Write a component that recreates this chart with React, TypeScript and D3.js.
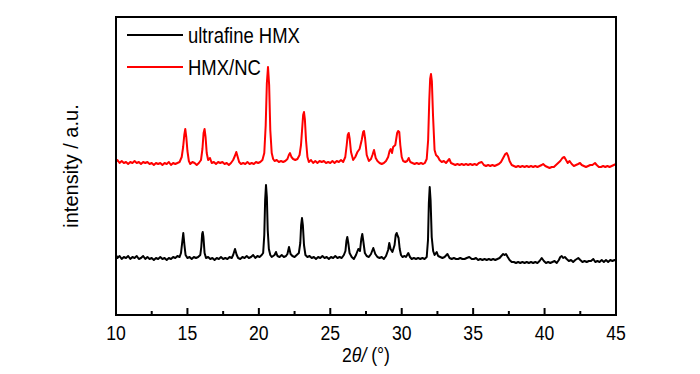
import * as d3 from "d3"

// 2theta / intensity (red trace already shifted up in the plot)
const ultrafineHMX: [number, number][] = [
  [10.0, 60], [10.1, 57], [10.25, 59], [10.4, 56], [10.55, 58], [10.7, 57], [10.85, 59], [11.0, 56],
  [11.15, 58], [11.3, 57], [11.45, 59], [11.6, 56], [11.75, 57], [11.9, 59], [12.05, 56], [12.2, 58],
  [12.35, 56], [12.5, 57], [12.65, 55], [12.8, 57], [12.95, 56], [13.1, 58], [13.25, 56], [13.4, 57],
  [13.55, 55], [13.7, 57], [13.85, 56], [14.0, 58], [14.15, 57], [14.3, 59], [14.45, 58],
  [14.55, 62], [14.63, 72], [14.71, 82], [14.79, 70], [14.87, 60], [15.0, 57], [15.15, 58], [15.3, 56],
  [15.45, 58], [15.6, 57], [15.75, 58], [15.9, 60],
  [15.97, 68], [16.03, 81], [16.07, 83], [16.12, 78], [16.2, 62], [16.3, 57], [16.45, 58], [16.6, 56],
  [16.75, 57], [16.9, 55], [17.05, 57], [17.2, 56], [17.35, 58], [17.5, 56], [17.65, 57], [17.8, 56],
  [17.95, 58], [18.1, 57],
  [18.2, 60], [18.33, 66], [18.45, 60], [18.55, 57], [18.7, 56], [18.85, 58], [19.0, 57], [19.15, 59],
  [19.3, 57], [19.45, 58], [19.6, 60], [19.75, 57], [19.9, 59], [20.05, 58], [20.2, 60], [20.3, 62],
  [20.38, 80], [20.44, 115], [20.5, 130], [20.56, 118], [20.62, 85], [20.7, 66], [20.8, 60], [20.9, 58],
  [21.0, 59], [21.1, 60], [21.2, 63], [21.3, 59], [21.45, 58], [21.6, 60], [21.75, 58], [21.9, 59],
  [22.0, 61], [22.11, 68], [22.22, 61], [22.35, 59], [22.5, 58], [22.65, 60], [22.8, 62],
  [22.9, 72], [22.96, 90], [23.02, 97], [23.08, 90], [23.16, 70], [23.26, 60], [23.4, 58], [23.55, 59],
  [23.7, 57], [23.85, 58], [24.0, 56], [24.15, 58], [24.3, 57], [24.45, 59], [24.6, 57], [24.75, 58],
  [24.9, 56], [25.05, 58], [25.2, 57], [25.35, 59], [25.5, 57], [25.65, 58], [25.8, 57], [25.95, 60],
  [26.06, 64], [26.13, 74], [26.19, 78], [26.26, 72], [26.35, 62], [26.5, 58], [26.65, 56], [26.8, 60],
  [26.96, 66], [27.08, 64], [27.17, 76], [27.24, 81], [27.31, 74], [27.42, 62], [27.55, 59], [27.7, 58],
  [27.85, 61], [28.01, 67], [28.15, 61], [28.3, 58], [28.45, 57], [28.6, 58], [28.75, 56], [28.9, 59],
  [29.05, 65], [29.13, 72], [29.22, 66], [29.35, 63],
  [29.5, 70], [29.58, 80], [29.65, 82], [29.72, 79], [29.78, 77], [29.86, 66], [29.95, 60], [30.05, 58],
  [30.2, 59], [30.3, 58], [30.46, 62], [30.58, 58], [30.7, 56], [30.85, 57], [31.0, 56], [31.15, 57],
  [31.3, 56], [31.45, 57], [31.6, 56], [31.75, 58],
  [31.84, 75], [31.9, 112], [31.96, 128], [32.02, 115], [32.1, 78], [32.2, 64], [32.3, 60], [32.45, 63],
  [32.55, 59], [32.7, 58], [32.85, 57], [33.0, 58], [33.2, 61], [33.35, 57], [33.5, 56], [33.65, 57],
  [33.8, 56], [33.95, 56], [34.1, 57], [34.25, 56], [34.4, 56], [34.55, 57], [34.73, 58], [34.9, 56],
  [35.05, 56], [35.2, 57], [35.35, 55], [35.5, 56], [35.65, 55], [35.8, 56], [35.95, 55], [36.1, 56],
  [36.25, 55], [36.4, 56], [36.55, 55], [36.7, 56], [36.85, 57], [36.97, 59],
  [37.1, 61], [37.2, 60], [37.3, 61], [37.42, 58], [37.55, 55], [37.7, 53], [37.85, 53], [38.0, 52],
  [38.15, 53], [38.3, 52], [38.45, 53], [38.6, 52], [38.75, 53], [38.9, 52], [39.05, 53], [39.2, 52],
  [39.35, 53], [39.5, 52], [39.65, 54], [39.8, 57], [39.95, 54], [40.1, 52], [40.25, 53], [40.4, 52],
  [40.55, 53], [40.7, 54], [40.85, 52], [41.0, 55], [41.1, 58], [41.2, 59], [41.3, 57], [41.42, 58],
  [41.55, 56], [41.7, 54], [41.85, 55], [42.0, 53], [42.15, 55], [42.36, 57], [42.5, 55], [42.65, 53],
  [42.8, 54], [42.95, 53], [43.1, 54], [43.25, 54], [43.41, 56], [43.55, 53], [43.7, 54], [43.85, 53],
  [44.0, 55], [44.15, 53], [44.3, 55], [44.45, 53], [44.6, 55], [44.75, 54], [44.9, 55], [45.0, 54],
]

const hmxNC: [number, number][] = [
  [10.0, 153], [10.1, 155], [10.25, 152], [10.4, 154], [10.55, 152], [10.7, 153], [10.85, 151], [11.0, 153],
  [11.15, 152], [11.3, 154], [11.45, 152], [11.6, 153], [11.75, 151], [11.9, 153], [12.05, 152], [12.2, 153],
  [12.35, 151], [12.5, 152], [12.65, 150], [12.8, 152], [12.95, 151], [13.1, 152], [13.25, 150], [13.4, 152],
  [13.55, 151], [13.7, 153], [13.85, 150], [14.0, 152], [14.15, 151], [14.3, 152], [14.45, 153], [14.6, 158],
  [14.7, 168], [14.78, 180], [14.85, 186], [14.92, 178], [15.0, 164], [15.1, 154], [15.2, 151], [15.35, 153],
  [15.5, 152], [15.65, 150], [15.8, 152], [15.95, 155],
  [16.05, 166], [16.13, 182], [16.2, 186], [16.27, 178], [16.35, 162], [16.45, 155], [16.58, 157], [16.7, 152],
  [16.85, 153], [17.0, 151], [17.15, 153], [17.3, 152], [17.45, 153], [17.6, 151], [17.75, 152], [17.9, 150],
  [18.05, 152], [18.2, 155], [18.32, 159], [18.42, 163], [18.52, 158], [18.62, 153], [18.75, 151], [18.9, 152],
  [19.05, 151], [19.2, 153], [19.35, 151], [19.5, 152], [19.65, 151], [19.8, 153], [19.95, 152], [20.1, 153],
  [20.25, 155], [20.38, 162],
  [20.48, 190], [20.56, 232], [20.64, 248], [20.72, 230], [20.8, 185], [20.9, 162], [21.0, 156], [21.1, 154],
  [21.25, 155], [21.4, 153], [21.55, 154], [21.7, 153], [21.85, 154], [22.0, 156], [22.1, 160], [22.18, 162],
  [22.28, 158], [22.4, 156], [22.55, 155], [22.7, 156], [22.85, 160], [22.95, 170],
  [23.05, 190], [23.1, 200], [23.16, 203], [23.22, 196], [23.3, 175], [23.4, 158], [23.5, 153], [23.65, 155],
  [23.8, 152], [23.95, 154], [24.1, 152], [24.25, 154], [24.4, 153], [24.55, 154], [24.7, 152], [24.85, 153],
  [25.0, 152], [25.15, 154], [25.3, 152], [25.45, 154], [25.6, 153], [25.75, 155], [25.9, 153], [26.05, 158],
  [26.15, 170], [26.22, 180], [26.29, 182], [26.36, 176], [26.45, 163], [26.6, 155], [26.75, 158], [26.9, 163],
  [27.05, 166], [27.2, 175], [27.3, 183], [27.36, 184], [27.44, 176], [27.55, 160], [27.7, 154], [27.85, 156],
  [27.95, 160], [28.06, 165], [28.18, 157], [28.3, 154], [28.45, 152], [28.6, 151], [28.75, 152], [28.9, 154],
  [29.05, 158], [29.15, 164], [29.23, 166], [29.32, 162], [29.4, 168],
  [29.55, 170], [29.68, 182], [29.75, 184], [29.83, 183], [29.9, 170], [30.0, 158], [30.1, 154], [30.25, 153],
  [30.38, 154], [30.49, 157], [30.6, 153], [30.75, 152], [30.9, 151], [31.05, 152], [31.2, 151], [31.35, 152],
  [31.5, 151], [31.62, 152], [31.75, 156], [31.85, 175],
  [31.93, 215], [31.99, 236], [32.05, 241], [32.11, 234], [32.19, 200], [32.3, 165], [32.4, 160], [32.54, 158],
  [32.65, 155], [32.8, 153], [32.95, 154], [33.1, 152], [33.33, 156], [33.45, 152], [33.6, 151], [33.75, 150],
  [33.9, 151], [34.05, 150], [34.2, 151], [34.35, 150], [34.5, 151], [34.65, 150], [34.8, 151], [34.95, 150],
  [35.1, 151], [35.25, 150], [35.4, 152], [35.6, 153], [35.75, 150], [35.9, 149], [36.05, 150], [36.2, 149],
  [36.35, 150], [36.5, 149], [36.65, 150], [36.8, 151], [36.95, 153], [37.1, 157],
  [37.25, 161], [37.35, 162], [37.45, 159], [37.55, 154], [37.7, 150], [37.85, 149], [38.0, 148], [38.15, 149],
  [38.3, 148], [38.45, 149], [38.6, 148], [38.75, 149], [38.9, 148], [39.05, 149], [39.2, 148], [39.35, 149],
  [39.5, 148], [39.65, 149], [39.8, 150], [39.9, 151], [40.05, 149], [40.2, 148], [40.35, 147], [40.5, 148],
  [40.65, 148], [40.8, 150], [40.95, 152], [41.1, 154], [41.25, 157], [41.38, 158], [41.5, 155], [41.62, 152],
  [41.75, 154], [41.9, 151], [42.05, 149], [42.2, 150], [42.35, 151], [42.48, 152], [42.6, 150], [42.75, 149],
  [42.9, 148], [43.05, 149], [43.2, 150], [43.35, 150], [43.53, 152], [43.65, 150], [43.8, 148], [43.95, 148],
  [44.1, 149], [44.25, 148], [44.4, 149], [44.55, 148], [44.7, 149], [44.85, 150], [45.0, 151],
]

const seriesNames = ["ultrafine HMX", "HMX/NC"]
const seriesColors = ["#000000", "#ff0000"]
const xMajorTicks = [10, 15, 20, 25, 30, 35, 40, 45]
const xMinorTicks = [12.5, 17.5, 22.5, 27.5, 32.5, 37.5, 42.5]

const font = "Arial, 'Liberation Sans', sans-serif"
const squeeze = 0.84 // the source figure is a little narrow horizontally

export default function App() {
  const width = 700
  const height = 374
  const margin = { top: 17, right: 84, bottom: 59, left: 116 }

  const xScale = d3
    .scaleLinear()
    .domain([10, 45])
    .range([margin.left, width - margin.right])

  const yScale = d3
    .scaleLinear()
    .domain([0, 298])
    .range([height - margin.bottom, margin.top])

  const line = d3
    .line<[number, number]>()
    .x((d) => xScale(d[0]))
    .y((d) => yScale(d[1]))

  const x0 = xScale.range()[0]
  const x1 = xScale.range()[1]
  const yb = yScale.range()[0]
  const yt = yScale.range()[1]

  return (
    <svg
      width={width}
      height={height}
      style={{ position: "absolute", left: 0, top: 0, background: "#fff" }}
      fontFamily={font}
    >
      <path d={line(ultrafineHMX) ?? ""} fill="none" stroke={seriesColors[0]} strokeWidth={2} strokeLinejoin="round" />
      <path d={line(hmxNC) ?? ""} fill="none" stroke={seriesColors[1]} strokeWidth={2} strokeLinejoin="round" />

      {/* frame */}
      <rect x={x0} y={yt} width={x1 - x0} height={yb - yt} fill="none" stroke="#000" strokeWidth={2} />

      {xMajorTicks.map((t) => (
        <g key={t}>
          <line x1={xScale(t)} x2={xScale(t)} y1={yb} y2={yb - 7} stroke="#000" strokeWidth={2} />
          <text
            transform={`translate(${xScale(t)},${yb + 25}) scale(${squeeze},1)`}
            textAnchor="middle"
            fontSize={21}
          >
            {t}
          </text>
        </g>
      ))}
      {xMinorTicks.map((t) => (
        <line key={t} x1={xScale(t)} x2={xScale(t)} y1={yb} y2={yb - 4} stroke="#000" strokeWidth={2} />
      ))}

      <text
        transform={`translate(${(x0 + x1) / 2},${yb + 47}) scale(${squeeze},1)`}
        textAnchor="middle"
        fontSize={21}
      >
        2<tspan fontStyle="italic">θ/</tspan> (°)
      </text>

      <text transform={`translate(78,${(yb + yt) / 2}) rotate(-90)`} textAnchor="middle" fontSize={20}>
        intensity / a.u.
      </text>

      {/* legend */}
      {seriesNames.map((name, i) => (
        <g key={name}>
          <line x1={127} x2={183} y1={35 + i * 32} y2={35 + i * 32} stroke={seriesColors[i]} strokeWidth={2} />
          <text transform={`translate(188,${43 + i * 32}) scale(${squeeze},1)`} fontSize={22}>
            {name}
          </text>
        </g>
      ))}
    </svg>
  )
}
